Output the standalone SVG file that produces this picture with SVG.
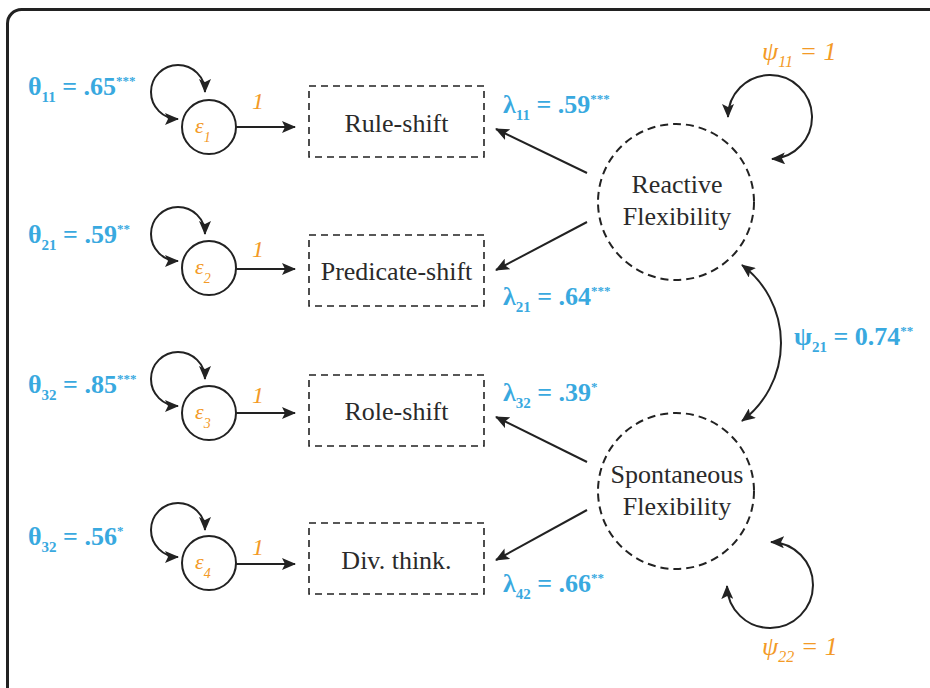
<svg xmlns="http://www.w3.org/2000/svg" width="930" height="688" viewBox="0 0 930 688">
<defs>
<marker id="ah" viewBox="0 0 14 12" refX="13" refY="6" markerWidth="14" markerHeight="12" orient="auto-start-reverse" markerUnits="userSpaceOnUse">
<path d="M0,0 L14,6 L0,12 L3,6 Z" fill="#222"/>
</marker>
<style>
.line{fill:none;stroke:#222;stroke-width:2}
.box{fill:none;stroke:#222;stroke-width:1.6;stroke-dasharray:7,5}
.lat{fill:none;stroke:#222;stroke-width:2;stroke-dasharray:8,5}
.err{fill:#fff;stroke:#222;stroke-width:2}
text{font-family:'Liberation Serif','Tinos','Times New Roman','DejaVu Serif',serif}
.lbl{font-size:26px;fill:#2a2a2a;text-anchor:middle}
.bl{font-size:26px;font-weight:bold;fill:#39a9df}
.or{font-style:italic;fill:#f39a26}
.sub{font-size:15px}
.sup{font-size:13px}
</style>
</defs>
<rect x="7.5" y="9.5" width="950" height="700" rx="14" fill="#fff" stroke="#222" stroke-width="3"/>

<g id="connectors">
<path class="line" d="M236,127 L295,127" marker-end="url(#ah)"/>
<path class="line" d="M236,269 L295,269" marker-end="url(#ah)"/>
<path class="line" d="M236,413 L295,413" marker-end="url(#ah)"/>
<path class="line" d="M236,564 L295,564" marker-end="url(#ah)"/>
<path class="line" d="M205,92 A27,27 0 1 0 178,119" marker-start="url(#ah)" marker-end="url(#ah)"/>
<path class="line" d="M205,234 A27,27 0 1 0 178,261" marker-start="url(#ah)" marker-end="url(#ah)"/>
<path class="line" d="M205,379 A27,27 0 1 0 178,406" marker-start="url(#ah)" marker-end="url(#ah)"/>
<path class="line" d="M205,530 A27,27 0 1 0 178,557" marker-start="url(#ah)" marker-end="url(#ah)"/>
<path class="line" d="M587,173 L496,129" marker-end="url(#ah)"/>
<path class="line" d="M587,222 L496,270" marker-end="url(#ah)"/>
<path class="line" d="M587,462 L496,417" marker-end="url(#ah)"/>
<path class="line" d="M587,510 L496,560" marker-end="url(#ah)"/>
<path class="line" d="M728,117 A42,42 0 1 1 772,159" marker-start="url(#ah)" marker-end="url(#ah)"/>
<path class="line" d="M771,542 A43,43 0 1 1 727,586" marker-start="url(#ah)" marker-end="url(#ah)"/>
<path class="line" d="M742,265 A97.5,97.5 0 0 1 742,421" marker-start="url(#ah)" marker-end="url(#ah)"/>
</g>

<g id="e1"><circle class="err" cx="209" cy="127" r="27"/><text class="or" x="195" y="133" font-size="22">ε<tspan font-size="14" dy="9">1</tspan></text></g>
<g id="e2"><circle class="err" cx="209" cy="268" r="27"/><text class="or" x="195" y="274" font-size="22">ε<tspan font-size="14" dy="9">2</tspan></text></g>
<g id="e3"><circle class="err" cx="209" cy="413" r="27"/><text class="or" x="195" y="419" font-size="22">ε<tspan font-size="14" dy="9">3</tspan></text></g>
<g id="e4"><circle class="err" cx="209" cy="563" r="27"/><text class="or" x="195" y="569" font-size="22">ε<tspan font-size="14" dy="9">4</tspan></text></g>

<g id="one-labels">
<text class="or" x="252" y="109" font-size="24">1</text>
<text class="or" x="252" y="257" font-size="24">1</text>
<text class="or" x="252" y="403" font-size="24">1</text>
<text class="or" x="252" y="555" font-size="24">1</text>
</g>

<g id="theta-labels">
<text class="bl" x="28" y="95">θ<tspan class="sub" dy="7">11</tspan><tspan dy="-7"> = .65</tspan><tspan class="sup" dy="-10">***</tspan></text>
<text class="bl" x="28" y="243">θ<tspan class="sub" dy="7">21</tspan><tspan dy="-7"> = .59</tspan><tspan class="sup" dy="-10">**</tspan></text>
<text class="bl" x="28" y="393">θ<tspan class="sub" dy="7">32</tspan><tspan dy="-7"> = .85</tspan><tspan class="sup" dy="-10">***</tspan></text>
<text class="bl" x="28" y="545">θ<tspan class="sub" dy="7">32</tspan><tspan dy="-7"> = .56</tspan><tspan class="sup" dy="-10">*</tspan></text>
</g>

<g id="rule-shift"><rect class="box" x="309" y="86" width="175" height="71"/><text class="lbl" x="396.5" y="132">Rule-shift</text></g>
<g id="predicate-shift"><rect class="box" x="309" y="235" width="175" height="71"/><text class="lbl" x="396.5" y="280">Predicate-shift</text></g>
<g id="role-shift"><rect class="box" x="309" y="375" width="175" height="71"/><text class="lbl" x="396.5" y="420">Role-shift</text></g>
<g id="div-think"><rect class="box" x="309" y="523" width="175" height="71"/><text class="lbl" x="396.5" y="569">Div. think.</text></g>

<g id="lambda-labels">
<text class="bl" x="503" y="113">λ<tspan class="sub" dy="7">11</tspan><tspan dy="-7"> = .59</tspan><tspan class="sup" dy="-10">***</tspan></text>
<text class="bl" x="503" y="305">λ<tspan class="sub" dy="7">21</tspan><tspan dy="-7"> = .64</tspan><tspan class="sup" dy="-10">***</tspan></text>
<text class="bl" x="503" y="401">λ<tspan class="sub" dy="7">32</tspan><tspan dy="-7"> = .39</tspan><tspan class="sup" dy="-10">*</tspan></text>
<text class="bl" x="503" y="592">λ<tspan class="sub" dy="7">42</tspan><tspan dy="-7"> = .66</tspan><tspan class="sup" dy="-10">**</tspan></text>
</g>

<g id="reactive"><circle class="lat" cx="676" cy="202" r="78"/><text class="lbl" x="677" y="193">Reactive</text><text class="lbl" x="677" y="225">Flexibility</text></g>
<g id="spontaneous"><circle class="lat" cx="676" cy="491" r="78"/><text class="lbl" x="677" y="483">Spontaneous</text><text class="lbl" x="677" y="515">Flexibility</text></g>

<g id="psi-labels">
<text class="or" x="762" y="60" font-size="26">ψ<tspan font-size="16" dy="7">11</tspan><tspan dy="-7"> = 1</tspan></text>
<text class="or" x="762" y="655" font-size="26">ψ<tspan font-size="16" dy="7">22</tspan><tspan dy="-7"> = 1</tspan></text>
<text class="bl" x="794" y="345">ψ<tspan class="sub" dy="7">21</tspan><tspan dy="-7"> = 0.74</tspan><tspan class="sup" dy="-10">**</tspan></text>
</g>
</svg>
